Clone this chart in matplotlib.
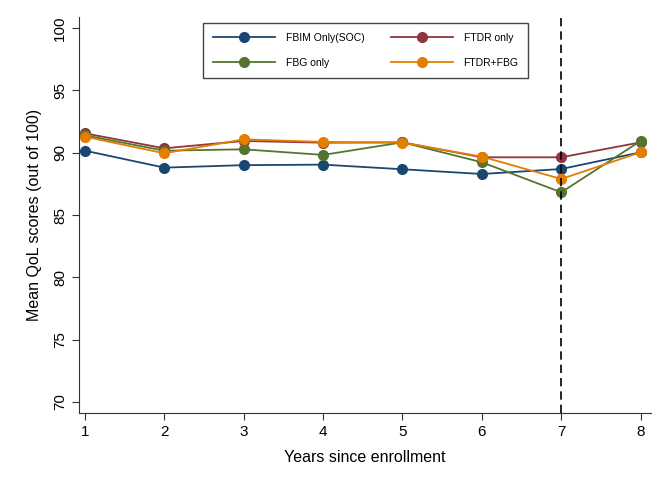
import numpy as np
import matplotlib
matplotlib.use('Agg')
import matplotlib.pyplot as plt

# data
years = [1, 2, 3, 4, 5, 6, 7, 8]
fbim = [90.16, 88.80, 89.00, 89.04, 88.67, 88.29, 88.69, 90.03]
ftdr = [91.55, 90.35, 90.94, 90.80, 90.83, 89.63, 89.63, 90.83]
fbg = [91.39, 90.16, 90.27, 89.82, 90.83, 89.23, 86.82, 90.94]
ftdr_fbg = [91.28, 89.95, 91.07, 90.86, 90.80, 89.68, 87.89, 90.03]
yticks = [70, 75, 80, 85, 90, 95, 100]

plt.rcParams['font.family'] = ['Liberation Sans', 'DejaVu Sans']

fig = plt.figure(figsize=(6.69, 4.87), dpi=100)
ax = fig.add_axes([0.118, 0.152, 0.855, 0.813])

lw = 1.3
ms = 7
l1, = ax.plot(years, fbim, color='#1a476f', lw=lw, marker='o', ms=ms, label='FBIM Only(SOC)')
l2, = ax.plot(years, ftdr, color='#90353b', lw=lw, marker='o', ms=ms, label='FTDR only')
l3, = ax.plot(years, fbg, color='#55752f', lw=lw, marker='o', ms=ms, label='FBG only')
l4, = ax.plot(years, ftdr_fbg, color='#e37e00', lw=lw, marker='o', ms=ms, label='FTDR+FBG')

ax.axvline(7, color='black', lw=1.2, ls=(0, (5, 3)))

ax.set_xlim(0.924, 8.13)
ax.set_ylim(69.12, 100.88)
ax.set_xticks(years)
ax.set_yticks(yticks)
ax.tick_params(axis='y', labelrotation=90, labelsize=11, length=5, color='#333333')
ax.tick_params(axis='x', labelsize=11, length=5, color='#333333')
for lab in ax.get_yticklabels():
    lab.set_va('center')
ax.spines['top'].set_visible(False)
ax.spines['right'].set_visible(False)
ax.spines['left'].set_color('#333333')
ax.spines['bottom'].set_color('#333333')

ax.set_xlabel('Years since enrollment', fontsize=11.5, labelpad=8)
ax.set_ylabel('Mean QoL scores (out of 100)', fontsize=11.5, labelpad=8)

# legend filled column-wise, so order handles to read row-wise
leg = ax.legend(handles=[l1, l3, l2, l4], ncol=2, fontsize=7.5,
                loc='upper left', bbox_to_anchor=(203 / 669, 1 - 23 / 487),
                bbox_transform=fig.transFigure, borderaxespad=0,
                handlelength=6.0, handletextpad=1.0, columnspacing=2.5,
                borderpad=0.95, labelspacing=1.45,
                fancybox=False, edgecolor='#444444', framealpha=1)
leg.get_frame().set_linewidth(1.0)

fig.savefig('out.png', dpi=100)
